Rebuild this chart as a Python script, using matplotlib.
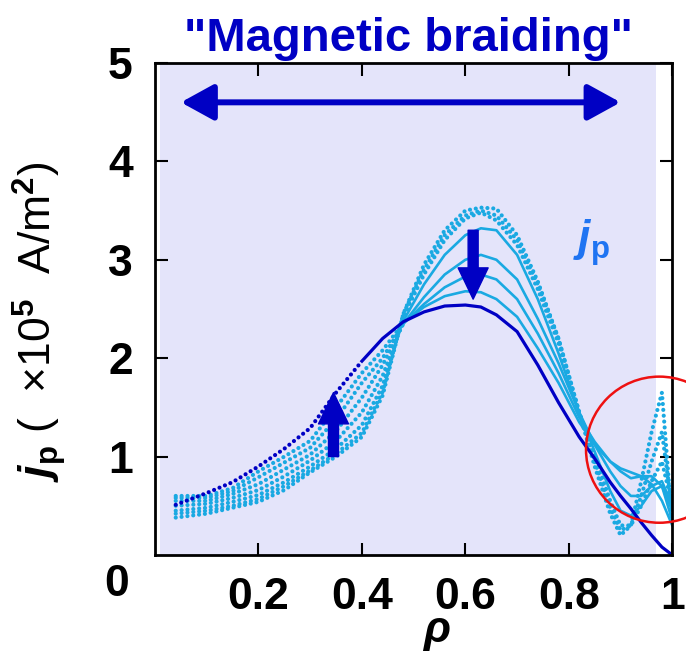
import numpy as np
import matplotlib
matplotlib.use("Agg")
import matplotlib.pyplot as plt
from matplotlib.patches import Ellipse, FancyArrowPatch

plt.rcParams['font.family'] = ['Liberation Sans', 'DejaVu Sans']
plt.rcParams['font.weight'] = 'bold'
plt.rcParams['mathtext.fontset'] = 'custom'
plt.rcParams['mathtext.rm'] = 'Liberation Sans:bold'
plt.rcParams['mathtext.bf'] = 'Liberation Sans:bold'
plt.rcParams['mathtext.it'] = 'Liberation Sans:italic:bold'

# radial grid (rho) shared by all profiles
rho = [0.04, 0.10, 0.15, 0.20, 0.25, 0.30, 0.35, 0.40, 0.44, 0.48, 0.52, 0.56, 0.60,
       0.63, 0.66, 0.70, 0.74, 0.78, 0.82, 0.85, 0.88, 0.90, 0.92, 0.94, 0.96, 0.98, 1.00]

# final profile (dark blue)
jp_final = [0.51, 0.63, 0.74, 0.90, 1.08, 1.29, 1.65, 1.97, 2.20, 2.37, 2.47, 2.53, 2.54,
            2.52, 2.44, 2.27, 1.93, 1.55, 1.20, 0.98, 0.74, 0.60, 0.47, 0.33, 0.20, 0.08, 0.00]

# earlier profiles shown with dots
jp_dot1 = [0.38, 0.42, 0.48, 0.54, 0.66, 0.84, 1.00, 1.20, 1.62, 2.45, 2.95, 3.30, 3.50,
           3.53, 3.52, 3.25, 2.78, 2.20, 1.45, 0.90, 0.42, 0.20, 0.30, 0.75, 1.25, 1.65, 0.30]
jp_dot2 = [0.42, 0.45, 0.50, 0.57, 0.70, 0.86, 1.03, 1.24, 1.66, 2.45, 2.90, 3.25, 3.45,
           3.50, 3.45, 3.20, 2.75, 2.20, 1.45, 0.95, 0.48, 0.25, 0.30, 0.60, 0.95, 1.25, 0.45]
jp_dot3 = [0.45, 0.48, 0.54, 0.61, 0.74, 0.90, 1.08, 1.32, 1.72, 2.42, 2.85, 3.20, 3.42,
           3.48, 3.40, 3.15, 2.70, 2.15, 1.45, 1.00, 0.55, 0.30, 0.30, 0.50, 0.75, 0.95, 0.50]

# intermediate profiles drawn as lines
jp_line1 = [0.50, 0.52, 0.58, 0.66, 0.80, 0.96, 1.16, 1.45, 1.82, 2.38, 2.75, 3.05, 3.25,
            3.32, 3.30, 3.05, 2.60, 2.05, 1.45, 1.05, 0.65, 0.45, 0.40, 0.50, 0.65, 0.70, 0.45]
jp_line2 = [0.55, 0.55, 0.62, 0.72, 0.87, 1.02, 1.26, 1.60, 1.93, 2.35, 2.62, 2.85, 3.00,
            3.05, 3.00, 2.80, 2.40, 1.95, 1.45, 1.12, 0.85, 0.70, 0.60, 0.60, 0.70, 0.75, 0.50]
jp_line3 = [0.58, 0.58, 0.65, 0.79, 0.94, 1.09, 1.38, 1.75, 2.00, 2.35, 2.55, 2.72, 2.83,
            2.85, 2.80, 2.60, 2.25, 1.85, 1.40, 1.15, 0.95, 0.85, 0.78, 0.80, 0.80, 0.70, 0.35]
jp_line4 = [0.60, 0.60, 0.68, 0.85, 1.00, 1.16, 1.50, 1.85, 2.08, 2.36, 2.52, 2.63, 2.68,
            2.67, 2.60, 2.42, 2.10, 1.75, 1.35, 1.12, 0.95, 0.88, 0.84, 0.80, 0.72, 0.55, 0.30]

xticks = [0.2, 0.4, 0.6, 0.8, 1.0]
xticklabels = ['0.2', '0.4', '0.6', '0.8', '1']
yticks = [1, 2, 3, 4, 5]

light = '#1aa9e2'
dark = '#0000c4'
dots = (0, (0.01, 1.4))

fig = plt.figure(figsize=(6.86, 6.56), dpi=100)
ax = fig.add_axes([0.226, 0.154, 0.754, 0.750])

ax.axvspan(0.01, 0.969, color='#e4e4fa', zorder=0, lw=0)

x = np.array(rho)
for y in [jp_dot1, jp_dot2, jp_dot3]:
    ax.plot(x, y, color=light, lw=3.0, ls=dots, dash_capstyle='round')
for y in [jp_line1, jp_line2, jp_line3, jp_line4]:
    y = np.array(y)
    ax.plot(x[x <= 0.48], y[x <= 0.48], color=light, lw=3.0, ls=dots, dash_capstyle='round')
    ax.plot(x[x >= 0.48], y[x >= 0.48], color=light, lw=1.9)

yf = np.array(jp_final)
ax.plot(x[x <= 0.40], yf[x <= 0.40], color=dark, lw=3.0, ls=dots, dash_capstyle='round')
ax.plot(x[x >= 0.40], yf[x >= 0.40], color=dark, lw=2.3)

# arrows
ax.annotate('', xy=(0.05, 4.6), xytext=(0.90, 4.6),
            arrowprops=dict(arrowstyle='<|-|>,head_length=1.0,head_width=0.55',
                            mutation_scale=20, lw=4.3, color=dark,
                            shrinkA=0, shrinkB=0))
for xa, y0, y1 in [(0.615, 3.30, 2.60), (0.345, 1.00, 1.65)]:
    ax.add_patch(FancyArrowPatch((xa, y0), (xa, y1),
                 arrowstyle='simple,head_width=1.2,head_length=1.25,tail_width=0.4',
                 mutation_scale=18, color=dark, shrinkA=0, shrinkB=0, zorder=5))

ax.add_patch(Ellipse((0.975, 1.07), 0.2835, 1.485, fill=False,
                     edgecolor='#ee1111', lw=1.8, clip_on=False, zorder=6))

ax.text(0.843, 3.17, r'$j_{\rm p}$', color='#1f74f2', fontsize=32,
        ha='center', va='center')

ax.set_xlim(0, 1)
ax.set_ylim(0, 5)
ax.set_xticks(xticks)
ax.set_xticklabels(xticklabels)
ax.set_yticks(yticks)
ax.tick_params(direction='in', length=9, width=1.5, top=True, right=True,
               labelsize=32, pad=16)
ax.tick_params(axis='y', pad=16)
for s in ax.spines.values():
    s.set_linewidth(2)

ax.text(-0.05, -0.3, '0', fontsize=32, fontweight='bold', ha='right', va='center',
        transform=ax.transData)
ax.set_xlabel(r'$\rho$', fontsize=32)
ax.xaxis.set_label_coords(0.543, -0.2)
ax.xaxis.label.set_va('bottom')
ax.set_ylabel(r'$j_{\rm p}$ (  ×10$^{5}$  A/m$^{2}$)', fontsize=32)
ax.yaxis.set_label_coords(-0.168, 0.475)
fig.text(0.596, 0.94, '"Magnetic braiding"', color=dark, fontsize=34,
         fontweight='bold', ha='center', va='center')

fig.savefig('out.png', dpi=100)
